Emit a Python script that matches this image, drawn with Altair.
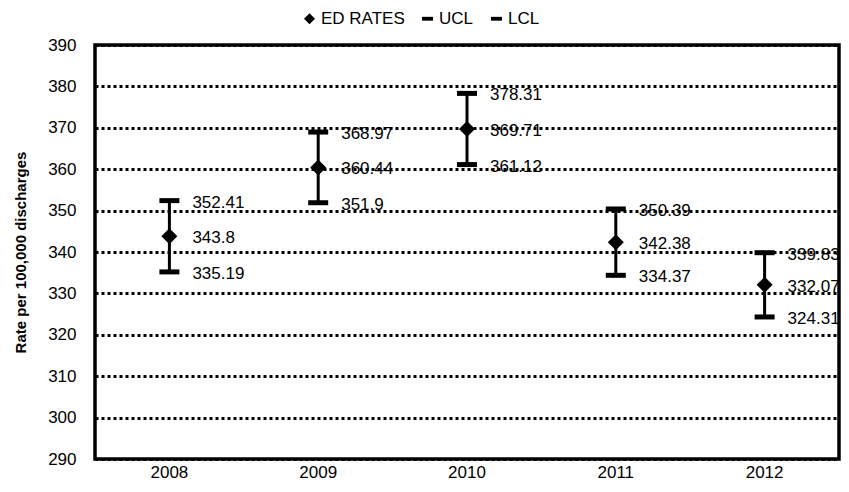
import altair as alt
import pandas as pd

years = ["2008", "2009", "2010", "2011", "2012"]
rate = [343.8, 360.44, 369.71, 342.38, 332.07]
ucl = [352.41, 368.97, 378.31, 350.39, 339.83]
lcl = [335.19, 351.9, 361.12, 334.37, 324.31]
rate_txt = ["343.8", "360.44", "369.71", "342.38", "332.07"]
ucl_txt = ["352.41", "368.97", "378.31", "350.39", "339.83"]
lcl_txt = ["335.19", "351.9", "361.12", "334.37", "324.31"]
series_names = ["ED RATES", "UCL", "LCL"]
y_ticks = [290, 300, 310, 320, 330, 340, 350, 360, 370, 380, 390]

FONT = "Liberation Sans, Arial, sans-serif"

df = pd.DataFrame({"year": years, "rate": rate, "ucl": ucl, "lcl": lcl,
                   "series": ["ED RATES"] * len(years)})

lab_rows = []
for i, y in enumerate(years):
    lab_rows.append({"year": y, "value": ucl[i], "label": ucl_txt[i]})
    lab_rows.append({"year": y, "value": rate[i], "label": rate_txt[i]})
    lab_rows.append({"year": y, "value": lcl[i], "label": lcl_txt[i]})
labels = pd.DataFrame(lab_rows)

x_enc = alt.X("year:N", sort=years, title=None,
              scale=alt.Scale(paddingInner=0, paddingOuter=0),
              axis=alt.Axis(labelAngle=0, ticks=False, domain=False, labelPadding=5,
                            labelFont=FONT, labelFontSize=17, labelColor="black"))
y_scale = alt.Scale(domain=[290, 390], nice=False, zero=False)
y_axis = alt.Axis(values=y_ticks, ticks=False, domain=False, labelPadding=19,
                  labelFont=FONT, labelFontSize=17, labelColor="black",
                  grid=True, gridColor="black", gridDash=[3, 3], gridWidth=3,
                  title="Rate per 100,000 discharges", titleFont=FONT,
                  titleFontSize=15, titleFontWeight="bold", titleColor="black",
                  titlePadding=19)

base = alt.Chart(df)

rules = base.mark_rule(color="black", strokeWidth=3).encode(
    x=x_enc,
    y=alt.Y("lcl:Q", scale=y_scale, axis=y_axis),
    y2="ucl:Q",
)
cap_u = base.mark_tick(color="black", size=20, thickness=5, opacity=1).encode(
    x=alt.X("year:N", sort=years), y=alt.Y("ucl:Q"))
cap_l = base.mark_tick(color="black", size=20, thickness=5, opacity=1).encode(
    x=alt.X("year:N", sort=years), y=alt.Y("lcl:Q"))

points = base.mark_point(filled=True, color="black", size=256, opacity=1).encode(
    x=alt.X("year:N", sort=years),
    y=alt.Y("rate:Q"),
    shape=alt.Shape("series:N",
                    scale=alt.Scale(domain=series_names,
                                    range=["diamond", "M-1,-0.35H1V0.35H-1Z", "M-1,-0.35H1V0.35H-1Z"]),
                    legend=alt.Legend(title=None, orient="none", direction="horizontal",
                                      legendX=206, legendY=-35,
                                      labelFont=FONT, labelFontSize=17, labelColor="black",
                                      symbolSize=120, symbolFillColor="black",
                                      symbolStrokeWidth=0, labelOffset=3,
                                      columnPadding=14)),
)

texts = alt.Chart(labels).mark_text(align="left", baseline="middle", dx=23, dy=2,
                                    font=FONT, fontSize=17, color="black",
                                    clip=True).encode(
    x=alt.X("year:N", sort=years),
    y=alt.Y("value:Q"),
    text="label:N",
)

chart = alt.layer(rules, cap_u, cap_l, points, texts).properties(
    width=744, height=414,
    autosize=alt.AutoSizeParams(type="none"),
    padding={"left": 87, "top": 37, "right": 2, "bottom": 25},
    background="white",
).configure_view(stroke="black", strokeWidth=3.5)

chart.save("out.html", embed_options={"renderer": "svg", "actions": False})
